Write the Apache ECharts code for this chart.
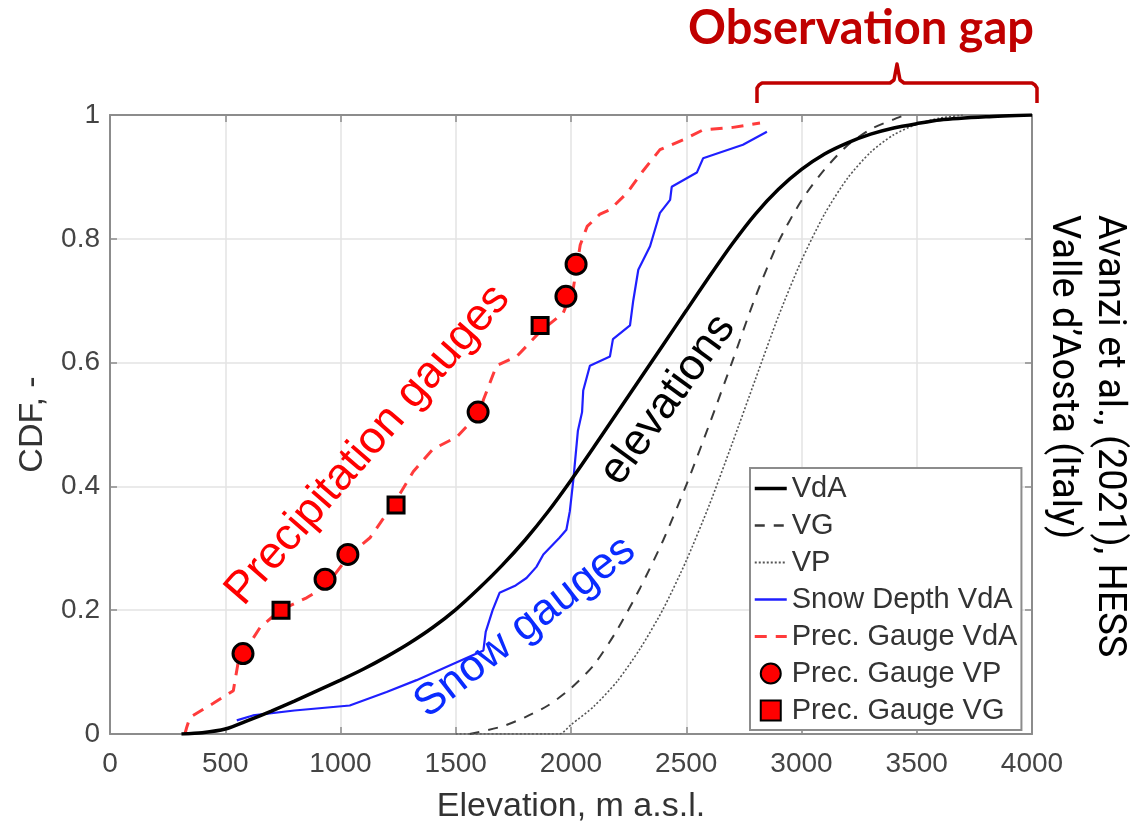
<!DOCTYPE html>
<html>
<head>
<meta charset="utf-8">
<script src="https://cdn.jsdelivr.net/npm/echarts@6/dist/echarts.min.js"></script>
<style>
  html, body { margin: 0; padding: 0; background: #fff; }
  #chart { width: 1130px; height: 829px; }
</style>
</head>
<body>
<div id="chart"></div>
<script>
// elevation CDFs (VdA, VG, VP)
const vdaElev = [310, 400, 500, 600, 700, 800, 900, 1000, 1100, 1200, 1300, 1400, 1500, 1600, 1700, 1800, 1900, 2000, 2100, 2200, 2300, 2400, 2500, 2600, 2700, 2800, 2900, 3000, 3100, 3200, 3300, 3400, 3500, 3600, 3800, 4000];
const vdaCdf = [0, 0.002, 0.008, 0.022, 0.037, 0.053, 0.07, 0.087, 0.105, 0.125, 0.147, 0.172, 0.201, 0.235, 0.272, 0.313, 0.359, 0.41, 0.464, 0.519, 0.574, 0.629, 0.684, 0.739, 0.792, 0.84, 0.88, 0.912, 0.937, 0.955, 0.969, 0.979, 0.986, 0.992, 0.997, 1.0];

const vgElev = [1560, 1700, 1800, 1900, 2000, 2100, 2200, 2300, 2400, 2500, 2600, 2700, 2800, 2900, 3000, 3100, 3200, 3300, 3400, 3450];
const vgCdf = [0, 0.012, 0.027, 0.046, 0.074, 0.112, 0.168, 0.236, 0.313, 0.402, 0.5, 0.602, 0.706, 0.795, 0.862, 0.912, 0.951, 0.977, 0.993, 1.0];

const vpElev = [1500, 1950, 2000, 2100, 2200, 2300, 2400, 2500, 2600, 2700, 2800, 2900, 3000, 3100, 3200, 3300, 3400, 3500, 3600, 3700];
const vpCdf = [0, 0, 0.015, 0.045, 0.085, 0.138, 0.202, 0.28, 0.37, 0.47, 0.573, 0.675, 0.765, 0.84, 0.898, 0.94, 0.968, 0.985, 0.995, 1.0];

// snow depth stations VdA
const snowElev = [550, 620, 800, 1040, 1200, 1330, 1500, 1620, 1630, 1660, 1690, 1760, 1807, 1850, 1880, 1950, 1980, 1995, 2010, 2030, 2048, 2053, 2082, 2169, 2182, 2256, 2270, 2292, 2343, 2386, 2430, 2437, 2546, 2573, 2746, 2850];
const snowCdf = [0.022, 0.03, 0.038, 0.046, 0.068, 0.087, 0.115, 0.135, 0.165, 0.2, 0.228, 0.24, 0.252, 0.27, 0.29, 0.317, 0.33, 0.36, 0.41, 0.49, 0.52, 0.555, 0.595, 0.61, 0.638, 0.66, 0.70, 0.75, 0.788, 0.842, 0.863, 0.884, 0.907, 0.93, 0.952, 0.973];

// precipitation gauges VdA
const precElev = [325, 333, 347, 450, 535, 557, 651, 738, 853, 940, 1040, 1128, 1245, 1316, 1400, 1505, 1605, 1620, 1677, 1765, 1866, 1966, 2010, 2040, 2070, 2126, 2169, 2243, 2313, 2386, 2486, 2573, 2703, 2820];
const precCdf = [0, 0.011, 0.027, 0.05, 0.07, 0.118, 0.172, 0.2, 0.22, 0.24, 0.29, 0.317, 0.38, 0.424, 0.46, 0.48, 0.52, 0.54, 0.595, 0.61, 0.65, 0.68, 0.72, 0.79, 0.82, 0.84, 0.847, 0.874, 0.91, 0.944, 0.96, 0.976, 0.98, 0.987];

// single gauges VP (circles) and VG (squares)
const vpGaugeElev = [577, 933, 1032, 1597, 1978, 2022];
const vpGaugeCdf = [0.13, 0.25, 0.29, 0.52, 0.707, 0.759];
const vgGaugeElev = [742, 1241, 1866];
const vgGaugeCdf = [0.2, 0.37, 0.66];

const xTicks = [0, 500, 1000, 1500, 2000, 2500, 3000, 3500, 4000];
const yTicks = [0, 0.2, 0.4, 0.6, 0.8, 1];

const zip = (xs, ys) => xs.map((x, i) => [x, ys[i]]);

const FONT = '"Liberation Sans", Arial, sans-serif';
const AXIS_GRAY = '#8c8c8c';

const myChart = echarts.init(document.getElementById('chart'), null, { renderer: 'canvas' });

const baseX = {
  type: 'value',
  min: xTicks[0],
  max: xTicks[xTicks.length - 1],
  interval: 500,
  axisLine: { show: true, onZero: false, lineStyle: { color: AXIS_GRAY, width: 2 } },
  axisTick: { show: true, inside: true, length: 7, lineStyle: { color: AXIS_GRAY, width: 1.5 } },
};
const baseY = {
  type: 'value',
  min: yTicks[0],
  max: yTicks[yTicks.length - 1],
  interval: 0.2,
  axisLine: { show: true, onZero: false, lineStyle: { color: AXIS_GRAY, width: 2 } },
  axisTick: { show: true, inside: true, length: 7, lineStyle: { color: AXIS_GRAY, width: 1.5 } },
};

// legend: lines without the default symbol, square icon for the VG gauges
const hideSymbol = { opacity: 0 };
const legendData = [
  { name: 'VdA', itemStyle: hideSymbol, lineStyle: { width: 3.5 } },
  { name: 'VG', itemStyle: hideSymbol, lineStyle: { width: 2.5 } },
  { name: 'VP', itemStyle: hideSymbol, lineStyle: { width: 1.8 } },
  { name: 'Snow Depth VdA', itemStyle: hideSymbol, lineStyle: { width: 2.5 } },
  { name: 'Prec. Gauge VdA', itemStyle: hideSymbol, lineStyle: { width: 3 } },
  { name: 'Prec. Gauge VP' },
  { name: 'Prec. Gauge VG', icon: 'path://M0,0 L10,0 L10,10 L0,10 Z' },
];

const option = {
  backgroundColor: '#fff',
  animation: false,
  grid: { left: 110, top: 115, right: 98, bottom: 92, containLabel: false },
  xAxis: [
    {
      ...baseX,
      position: 'bottom',
      name: 'Elevation, m a.s.l.',
      nameLocation: 'middle',
      nameGap: 56,
      nameTextStyle: { fontSize: 34, color: '#333', fontFamily: FONT },
      axisLabel: { fontSize: 28, color: '#444', margin: 16, fontFamily: FONT, formatter: (v) => String(v) },
      splitLine: { show: true, lineStyle: { color: '#e3e3e3', width: 1.5 } },
    },
    {
      ...baseX,
      position: 'top',
      axisLabel: { show: false },
      splitLine: { show: false },
    },
  ],
  yAxis: [
    {
      ...baseY,
      position: 'left',
      name: 'CDF, -',
      nameLocation: 'middle',
      nameGap: 60,
      nameTextStyle: { fontSize: 34, color: '#333', fontFamily: FONT },
      axisLabel: { fontSize: 28, color: '#444', margin: 10, fontFamily: FONT, formatter: (v) => String(+v.toFixed(1)) },
      splitLine: { show: true, lineStyle: { color: '#e3e3e3', width: 1.5 } },
    },
    {
      ...baseY,
      position: 'right',
      axisLabel: { show: false },
      splitLine: { show: false },
    },
  ],
  legend: {
    orient: 'vertical',
    left: 750,
    top: 468,
    align: 'left',
    backgroundColor: '#fff',
    borderColor: '#8c8c8c',
    borderWidth: 2,
    borderRadius: 0,
    padding: [6, 4, 5, 3],
    itemGap: 8,
    itemWidth: 32,
    itemHeight: 20,
    textStyle: { fontSize: 29, color: '#333', fontFamily: FONT },
    data: legendData,
  },
  series: [
    {
      name: 'VdA', type: 'line', symbol: 'none', smooth: 0.25,
      lineStyle: { color: '#000', width: 3.5 }, itemStyle: { color: '#000' },
      data: zip(vdaElev, vdaCdf), z: 4,
    },
    {
      name: 'VG', type: 'line', symbol: 'none', smooth: 0.25,
      lineStyle: { color: '#3a3a3a', width: 2, type: [10, 9] }, itemStyle: { color: '#3a3a3a' },
      data: zip(vgElev, vgCdf), z: 3,
    },
    {
      name: 'VP', type: 'line', symbol: 'none', smooth: 0.25,
      lineStyle: { color: '#555', width: 1.6, type: [2, 2] }, itemStyle: { color: '#555' },
      data: zip(vpElev, vpCdf), z: 3,
    },
    {
      name: 'Snow Depth VdA', type: 'line', symbol: 'none',
      lineStyle: { color: '#1f1fff', width: 2.2 }, itemStyle: { color: '#1f1fff' },
      data: zip(snowElev, snowCdf), z: 3,
    },
    {
      name: 'Prec. Gauge VdA', type: 'line', symbol: 'none',
      lineStyle: { color: '#ff3b3b', width: 3, type: [12, 9] }, itemStyle: { color: '#ff3b3b' },
      data: zip(precElev, precCdf), z: 3,
    },
    {
      name: 'Prec. Gauge VP', type: 'scatter', symbol: 'circle', symbolSize: 20,
      itemStyle: { color: '#ff0000', borderColor: '#000', borderWidth: 3, opacity: 1 },
      data: zip(vpGaugeElev, vpGaugeCdf), z: 5,
    },
    {
      name: 'Prec. Gauge VG', type: 'scatter', symbol: 'rect', symbolSize: 16,
      itemStyle: { color: '#ff0000', borderColor: '#000', borderWidth: 3, opacity: 1 },
      data: zip(vgGaugeElev, vgGaugeCdf), z: 5,
    },
  ],
  graphic: [
    // annotations
    {
      type: 'text', x: 861, y: 29, z: 10,
      style: { text: 'Observation gap', fill: '#c00000', font: 'bold 47px Lato, "Open Sans", sans-serif', align: 'center', verticalAlign: 'middle' },
    },
    {
      type: 'polyline', z: 10,
      shape: { points: [[757, 103], [757, 88], [759, 85], [762, 83], [890, 83], [894, 80], [897, 64], [900, 80], [904, 83], [1032, 83], [1035, 85], [1037, 88], [1037, 103]] },
      style: { stroke: '#c00000', lineWidth: 3.5, fill: null, lineJoin: 'round' },
    },
    {
      type: 'text', x: 368, y: 445, rotation: 49 * Math.PI / 180, z: 10,
      style: { text: 'Precipitation gauges', fill: '#ff0000', font: '45px ' + FONT, align: 'center', verticalAlign: 'middle' },
    },
    {
      type: 'text', x: 668, y: 400, rotation: 54 * Math.PI / 180, z: 10,
      style: { text: 'elevations', fill: '#000', font: '44px ' + FONT, align: 'center', verticalAlign: 'middle' },
    },
    {
      type: 'text', x: 525, y: 627, rotation: 38 * Math.PI / 180, z: 10,
      style: { text: 'Snow gauges', fill: '#0a2bff', font: '44px ' + FONT, align: 'center', verticalAlign: 'middle' },
    },
    {
      type: 'text', x: 1108, y: 215, rotation: -Math.PI / 2, z: 10,
      style: { text: 'Avanzi et al., (2021), HESS', fill: '#000', font: '38px Roboto, sans-serif', align: 'left', verticalAlign: 'middle' },
    },
    {
      type: 'text', x: 1062, y: 215, rotation: -Math.PI / 2, z: 10,
      style: { text: 'Valle d\u2019Aosta (Italy)', fill: '#000', font: '38px Roboto, sans-serif', align: 'left', verticalAlign: 'middle' },
    },
  ],
};

myChart.setOption(option);

window.addEventListener('resize', () => myChart.resize());
</script>
</body>
</html>
